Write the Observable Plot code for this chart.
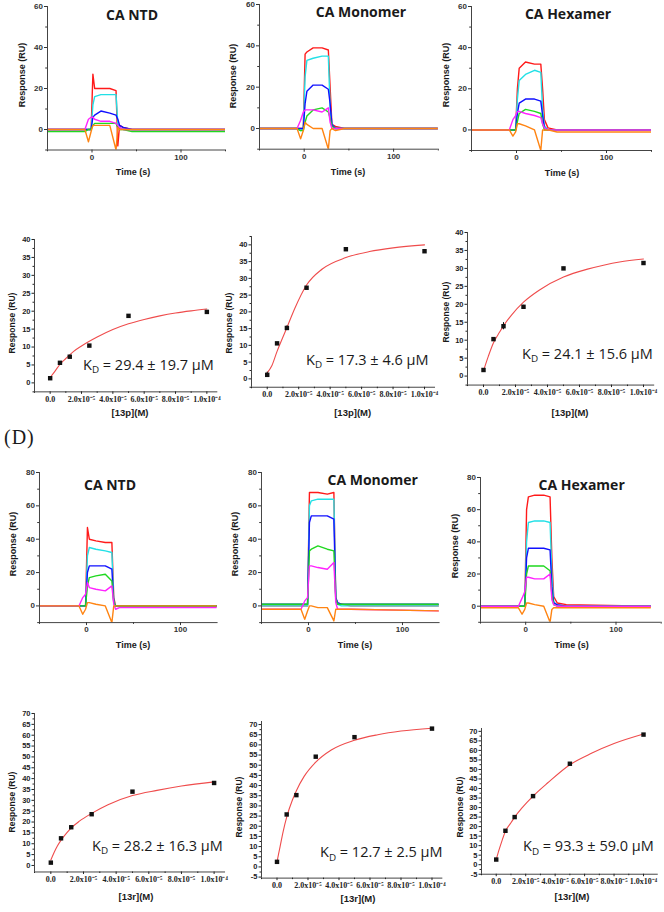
<!DOCTYPE html>
<html><head><meta charset="utf-8">
<script src="https://cdn.jsdelivr.net/npm/d3@7"></script>
<script src="https://cdn.jsdelivr.net/npm/@observablehq/plot@0.6"></script>
<style>
html,body{margin:0;padding:0;background:#fff;}
#fig{position:relative;width:664px;height:912px;overflow:hidden;background:#fff;}
#fig svg{position:absolute;overflow:visible;}
.t{position:absolute;white-space:nowrap;color:#1a1a1a;}
</style></head><body><div id="fig"></div>
<script>
// ---------- data ----------
const seriesNames = ["trace1","trace2","trace3","trace4","trace5","trace6"];
const seriesColors = ["#ff1a1a","#22e0e6","#1010ff","#1fd81f","#ff22ff","#ff8412"];
const timesTop = [-50,-8,-4,-1,1,3,10,20,27,29,31,35,45,150];
const timesBot = [-50,-8,-4,-1,1,3,10,20,27,29,31,35,45,138];

const sg13pNTD = [
  [0,0,0,0,27,20,20,20,19,-8,2,1,0,0],
  [0,0,0,0,12,16,17,17,17,3,1,0,0,0],
  [0,0,0,0,6,7,9,8,7,5,2,1,0,0],
  [-1,-1,0,0,2,3,3,3,3,1,0,0,-1,-1],
  [0,0,5,6,6,5,4,4,3,2,1,0,0,0],
  [0,0,-6,-1,2,2,2,2,-10,1,0,0,0,0]
];
const sg13pMono = [
  [0,0,0,0,36,37,39,39,38,20,2,1,0,0],
  [0,0,-1,0,25,33,34,35,35,10,2,0,0,0],
  [0,0,0,0,12,18,21,21,19,12,2,0,0,0],
  [0,0,-1,-1,3,6,9,10,8,5,1,0,0,0],
  [0,0,4,8,9,9,9,8,10,3,0,0,0,0],
  [0,0,-5,-1,3,2,0,0,-10,-1,0,-1,0,0]
];
const sg13pHex = [
  [0,0,0,0,20,30,33,32,32,20,5,1,0,0],
  [0,0,0,0,15,24,27,29,28,10,2,0,0,0],
  [0,0,0,0,8,13,15,15,14,7,1,0,0,0],
  [0,0,0,0,4,8,10,9,8,3,0,0,0,0],
  [0,0,5,7,9,9,8,7,6,3,1,0,0,0],
  [0,0,-3,-1,3,3,2,0,-10,0,0,0,-1,-1]
];
const sg13rNTD = [
  [0,0,0,0,47,40,39,38,38,5,0,0,0,0],
  [0,0,0,0,30,35,34,33,32,3,0,0,0,0],
  [0,0,0,0,20,24,24,24,22,2,0,0,0,0],
  [0,0,0,0,12,17,18,19,15,2,0,0,0,0],
  [0,0,5,7,14,11,10,9,12,1,-2,-1,-1,-1],
  [0,0,-5,-2,2,2,1,0,-10,0,0,0,0,0]
];
const sg13rMono = [
  [0,0,0,0,68,68,68,67,68,5,1,1,0,0],
  [0,0,0,0,60,63,64,64,64,5,1,0,0,0],
  [1,1,1,1,50,54,54,54,52,5,2,1,1,1],
  [1,1,1,1,33,34,36,34,33,4,1,1,1,1],
  [-2,-2,3,5,24,24,23,22,26,2,-2,-2,-2,-3],
  [-2,-2,-8,-3,0,0,-1,-1,-9,-2,-2,-2,-2,-3]
];
const sg13rHex = [
  [0,0,0,0,60,68,69,69,68,30,6,2,1,0],
  [0,0,0,0,40,52,53,53,52,20,3,0,0,0],
  [0,0,0,0,30,36,36,36,35,12,2,1,0,0],
  [0,0,0,0,20,25,25,25,22,7,1,0,0,0],
  [0,0,5,9,18,18,17,17,20,4,1,0,0,0],
  [-1,-1,-5,-2,2,2,1,0,-10,-2,-1,-1,-1,-1]
];

const conc = [0, 6.25e-6, 1.25e-5, 2.5e-5, 5e-5, 1e-4];
const r13pNTD  = [1.3, 5.6, 7.3, 10.4, 18.7, 19.8];
const r13pMono = [1.2, 10.6, 15.2, 27.2, 38.7, 38.1];
const e13pMono = [0.8, 0.3, 0.6, 0.2, 0.3, 0.3];
const r13pHex  = [1.7, 10.3, 13.9, 19.3, 30.0, 31.5];
const e13pHex  = [0.2, 0.3, 1.0, 0.4, 0.3, 0.3];
const r13rNTD  = [1.3, 12.5, 17.6, 23.6, 34.0, 38.0];
const r13rMono = [2.5, 25.8, 35.3, 54.2, 63.8, 68.0];
const r13rHex  = [2.7, 17.8, 25.0, 36.0, 53.0, 68.3];

const fitX13pNTD  = [0,3e-6,6.25e-6,1e-5,1.5e-5,2e-5,2.5e-5,3e-5,4e-5,5e-5,6e-5,7e-5,8e-5,9e-5,1e-4];
const fitY13pNTD  = [1.5,3.2,5.2,6.8,8.8,10.3,11.6,12.8,14.9,16.5,17.7,18.7,19.5,20.1,20.6];
const fitX13pMono = [0,3e-6,6.25e-6,1e-5,1.25e-5,1.75e-5,2.5e-5,3.5e-5,5e-5,6.5e-5,8e-5,1e-4];
const fitY13pMono = [1.8,4,8.2,12.5,15.3,21,28,32.8,36.2,38,39.1,40];
const fitX13pHex  = [0,3e-6,6.25e-6,1e-5,1.25e-5,1.75e-5,2.5e-5,3.5e-5,5e-5,6.5e-5,7.5e-5,8.5e-5,1e-4];
const fitY13pHex  = [1.5,5.5,9.3,12.2,14,17,20.6,24,27.6,29.8,30.9,31.8,32.6];
const fitX13r     = [0,2e-6,4e-6,6.25e-6,1e-5,1.25e-5,1.75e-5,2.5e-5,3.5e-5,5e-5,6.5e-5,8e-5,1e-4];
const fitY13rNTD  = [2.5,6,9,11.6,15.2,17.3,20.4,24,28,32.2,34.6,36.6,38.5];
const fitY13rMono = [2.5,10,17.5,24.5,33,37.5,44.5,51.5,57.5,62.3,65,66.8,68.2];
const fitY13rHex  = [2.7,8,12.8,17.6,22,25,29.8,36,43,52.5,58.6,63.6,68.6];

const panelTitles = ["CA NTD","CA Monomer","CA Hexamer"];
const ligandLabels = ["[13p](M)","[13r](M)"];
const kdValues = ["29.4 ± 19.7","17.3 ± 4.6","24.1 ± 15.6","28.2 ± 16.3","12.7 ± 2.5","93.3 ± 59.0"];

const binXTicks  = [0,2e-5,4e-5,6e-5,8e-5,1e-4];
const binXLabels = ["0.0","2.0x10⁻⁵","4.0x10⁻⁵","6.0x10⁻⁵","8.0x10⁻⁵","1.0x10⁻⁴"];
const binXMinor  = [-1e-5,1e-5,3e-5,5e-5,7e-5,9e-5];
const sgXTicks = [0,100];
const sgXMinor = [-50,50,150];

// ---------- helpers ----------
const fig = document.getElementById("fig");
function put(el, left, top){ el.style.position="absolute"; el.style.left=left+"px"; el.style.top=top+"px"; fig.appendChild(el); }
function label(html, x, y, o={}){
  const d=document.createElement("div"); d.className="t"; d.innerHTML=html;
  const fs=o.size||9;
  d.style.fontSize=fs+"px"; d.style.lineHeight=fs+"px";
  d.style.fontFamily=o.family||"Liberation Sans"; d.style.fontWeight=o.weight||"bold";
  if(o.spacing) d.style.letterSpacing=o.spacing+"px";
  let tr = o.align==="left" ? "translate(0,-50%)" : "translate(-50%,-50%)";
  if(o.rotate) tr += " rotate(-90deg)";
  d.style.transform=tr;
  put(d,x,y);
}
const axisFont = {fontWeight:"bold", fontFamily:"Liberation Sans"};

function sensor(series, times, xdom, ydom, yMajor, yMinor, g){
  const M={l:30,r:8,t:6,b:24};
  const w=g.x1-g.x0+M.l+M.r, h=g.y1-g.y0+M.t+M.b;
  const data=series.flatMap((vals,i)=>vals.map((v,j)=>({t:times[j],v,s:seriesNames[i]})));
  const p=Plot.plot({
    width:w, height:h, marginLeft:M.l, marginRight:M.r, marginTop:M.t, marginBottom:M.b,
    style:{background:"transparent", overflow:"visible", color:"#333"},
    x:{domain:xdom}, y:{domain:ydom},
    color:{type:"ordinal", domain:seriesNames, range:seriesColors},
    marks:[
      Plot.line(data,{x:"t",y:"v",z:"s",stroke:"s",strokeWidth:1.4,clip:true}),
      Plot.ruleX([xdom[0]],{stroke:"#444"}),
      Plot.ruleY([ydom[0]],{stroke:"#444"}),
      Plot.axisY({ticks:yMajor, tickSize:3, tickPadding:1.5, tickFormat:d=>String(d), label:null, fontSize:8, ...axisFont}),
      Plot.axisY({ticks:yMinor, tickSize:1.8, tickFormat:()=>"", label:null}),
      Plot.axisX({ticks:sgXTicks, tickSize:3, tickPadding:1, tickFormat:d=>String(d), label:null, fontSize:8, ...axisFont}),
      Plot.axisX({ticks:sgXMinor.filter(d=>d<=xdom[1]), tickSize:1.8, tickFormat:()=>"", label:null})
    ]
  });
  put(p, g.x0-M.l, g.y0-M.t);
}

function binding(resp, err, fx, fy, xdom, ydom, yMajor, yMinor, g){
  const M={l:26,r:10,t:6,b:20};
  const x0=g.xz+xdom[0]/1e-4*g.sx, x1=g.xz+xdom[1]/1e-4*g.sx;
  const y0=g.yz-ydom[1]*g.sy, y1=g.yz-ydom[0]*g.sy;
  const w=x1-x0+M.l+M.r, h=y1-y0+M.t+M.b;
  const pts=conc.map((c,i)=>({c, r:resp[i], lo:resp[i]-(err?err[i]:0), hi:resp[i]+(err?err[i]:0)}));
  const fit=fx.map((c,i)=>({c, r:fy[i]}));
  const p=Plot.plot({
    width:w, height:h, marginLeft:M.l, marginRight:M.r, marginTop:M.t, marginBottom:M.b,
    style:{background:"transparent", overflow:"visible", color:"#222"},
    x:{domain:xdom}, y:{domain:ydom},
    marks:[
      Plot.line(fit,{x:"c",y:"r",stroke:"#ef4c4c",strokeWidth:1.1,curve:"monotone-x"}),
      err ? Plot.ruleX(pts,{x:"c",y1:"lo",y2:"hi",stroke:"#111",strokeWidth:1}) : null,
      Plot.dot(pts,{x:"c",y:"r",symbol:"square",fill:"#111",r:2.5}),
      Plot.ruleX([xdom[0]],{stroke:"#444"}),
      Plot.ruleY([ydom[0]],{stroke:"#444"}),
      Plot.axisY({ticks:yMajor, tickSize:2.5, tickPadding:1.5, tickFormat:d=>String(d), label:null, fontSize:7.5, ...axisFont}),
      Plot.axisY({ticks:yMinor, tickSize:1.5, tickFormat:()=>"", label:null}),
      Plot.axisX({ticks:binXTicks, tickSize:2.5, tickPadding:1.5, tickFormat:d=>binXLabels[binXTicks.indexOf(d)], label:null, fontSize:8, fontWeight:"bold", fontFamily:"Liberation Serif"}),
      Plot.axisX({ticks:binXMinor, tickSize:1.5, tickFormat:()=>"", label:null})
    ]
  });
  put(p, x0-M.l, y0-M.t);
}
const range=(a,b,s)=>d3.range(a,b+s/2,s);

// ---------- sensorgrams ----------
const yTop=[0,20,40,60], yTopMinor=[-10,10,30,50];
const yBot=[0,20,40,60,80], yBotMinor=[-10,10,30,50,70];
sensor(sg13pNTD, timesTop, [-50,150], [-10,60], yTop, yTopMinor, {x0:46.5,x1:224.5,y0:6,y1:149.5});
sensor(sg13pMono, timesTop, [-50,150], [-10,60], yTop, yTopMinor, {x0:258.6,x1:437.4,y0:4,y1:148.7});
sensor(sg13pHex, timesTop, [-50,150], [-10,60], yTop, yTopMinor, {x0:471,x1:651,y0:6.3,y1:150.3});
sensor(sg13rNTD, timesBot, [-50,140], [-10,80], yBot, yBotMinor, {x0:39,x1:217.6,y0:472.3,y1:622.4});
sensor(sg13rMono, timesBot, [-50,140], [-10,80], yBot, yBotMinor, {x0:260.7,x1:439.3,y0:472.3,y1:622.4});
sensor(sg13rHex, timesBot, [-50,150], [-10,80], yBot, yBotMinor, {x0:480.1,x1:660.8,y0:477.3,y1:622.1});

// ---------- binding curves ----------
binding(r13pNTD, null, fitX13pNTD, fitY13pNTD, [-1e-5,1.07e-4], [-2.5,40], range(0,40,5), range(-2.5,37.5,5), {xz:49.3,sx:156.7,yz:382.7,sy:3.585});
binding(r13pMono, e13pMono, fitX13pMono, fitY13pMono, [-1e-5,1.07e-4], [-2.5,42.5], range(0,40,5), range(-2.5,42.5,5), {xz:266.7,sx:157.3,yz:378,sy:3.35});
binding(r13pHex, e13pHex, fitX13pHex, fitY13pHex, [-1e-5,1.07e-4], [-2.5,40], range(0,40,5), range(-2.5,37.5,5), {xz:483.3,sx:160,yz:376,sy:3.59});
binding(r13rNTD, null, fitX13r, fitY13rNTD, [-1e-5,1.07e-4], [-3,70], range(0,70,5), range(2.5,67.5,5), {xz:50.7,sx:163.3,yz:864.7,sy:2.171});
binding(r13rMono, null, fitX13r, fitY13rMono, [-1e-5,1.07e-4], [-5.5,71.5], range(-5,70,5), range(-2.5,67.5,5), {xz:276.7,sx:155,yz:866.7,sy:2.034});
binding(r13rHex, null, fitX13r, fitY13rHex, [-1e-5,1.1e-4], [-5,71.5], range(-5,70,5), range(-2.5,67.5,5), {xz:496,sx:147.3,yz:864.3,sy:1.905});

// ---------- text ----------
const titleOpt={size:14, family:"Open Sans", weight:"bold"};
[[132,15],[361,12],[568,13.8]].forEach((p,i)=>label(panelTitles[i],p[0],p[1],titleOpt));
[[110,485.3],[372.7,479.7],[581.7,485.3]].forEach((p,i)=>label(panelTitles[i],p[0],p[1],titleOpt));
[[133,172],[348,172],[562,173],[133,645],[355,645],[571.7,645]].forEach(p=>label("Time (s)",p[0],p[1],{size:9}));
[[21.7,75],[233.3,76],[446,75],[13.3,544],[235,544],[455,546]].forEach(p=>label("Response (RU)",p[0],p[1],{size:9,rotate:true}));
[[12,323],[229,323],[446,312],[12,802],[239.3,807],[460,807]].forEach(p=>label("Response (RU)",p[0],p[1],{size:8.5,rotate:true}));
[[130,412.7],[352.7,413],[570,412.7]].forEach(p=>label(ligandLabels[0],p[0],p[1],{size:9.5}));
[[136,897],[358,899],[572,896.7]].forEach(p=>label(ligandLabels[1],p[0],p[1],{size:9.5}));
const kdPos=[[83,365.7],[306,360.7],[522,355],[92,846.7],[320,853.3],[523,847.3]];
kdPos.forEach((p,i)=>label(`K<span style="font-size:0.68em;position:relative;top:0.35em">D</span> = ${kdValues[i]} µM`,p[0],p[1],{size:14.5,family:"Open Sans",weight:"normal",align:"left"}));
label("(D)",4,437,{size:20,family:"Liberation Serif",weight:"normal",align:"left",spacing:1});
</script></body></html>
